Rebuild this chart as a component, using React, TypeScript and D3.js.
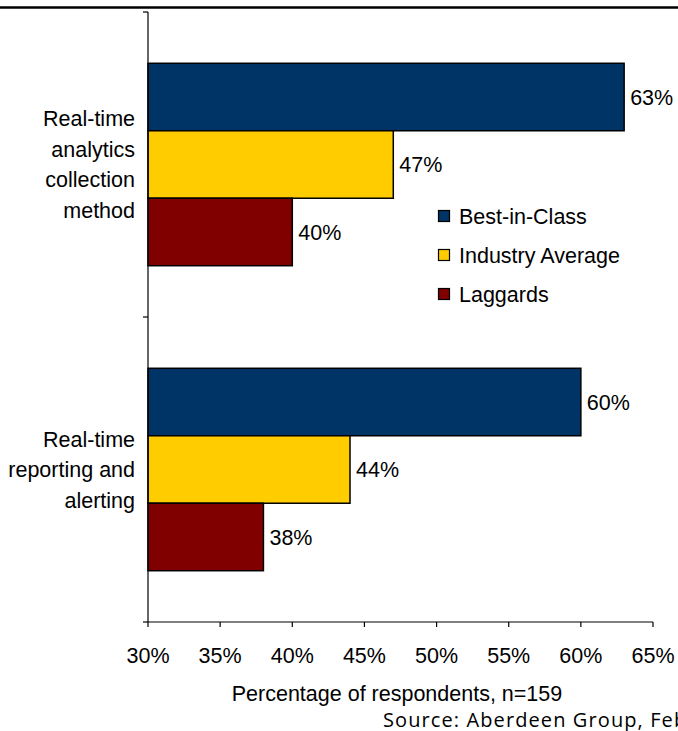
import React from "react";
import * as d3 from "d3";

const categories = [
  ["Real-time", "analytics", "collection", "method"],
  ["Real-time", "reporting and", "alerting"],
];
const seriesNames = ["Best-in-Class", "Industry Average", "Laggards"];
const seriesColors = ["#003366", "#FFCC00", "#800000"];
const bestInClass = [63, 60];
const industryAverage = [47, 44];
const laggards = [40, 38];
const xTicks = [30, 35, 40, 45, 50, 55, 60, 65];

const W = 678;
const H = 731;

export default function App() {
  const series = [bestInClass, industryAverage, laggards];
  const x = d3.scaleLinear().domain([30, 65]).range([148, 653]);
  const y0 = d3
    .scaleBand<number>()
    .domain(categories.map((_, i) => i))
    .range([12, 622])
    .paddingInner(0)
    .paddingOuter(0);
  const groupH = y0.bandwidth();
  const y1 = d3
    .scaleBand<number>()
    .domain(seriesNames.map((_, i) => i))
    .range([0, groupH])
    .paddingInner(0)
    .paddingOuter(0.76);
  const font = "'Liberation Sans', Arial, sans-serif";
  const fs = 21.5;
  const axisY = 622;
  const axisX = 148;
  return (
    <div style={{ position: "absolute", left: 0, top: 0 }}>
      <svg width={W} height={H} style={{ display: "block" }}>
        <rect width={W} height={H} fill="#fff" />
        <line x1={0} x2={W} y1={7.5} y2={7.5} stroke="#000" strokeWidth={2.5} />
        {/* bars */}
        {categories.map((_, ci) =>
          series.map((s, si) => (
            <g key={`${ci}-${si}`}>
              <rect
                x={axisX}
                y={(y0(ci) as number) + (y1(si) as number)}
                width={x(s[ci]) - axisX}
                height={y1.bandwidth()}
                fill={seriesColors[si]}
                stroke="#000"
                strokeWidth={1.5}
              />
              <text
                x={x(s[ci]) + 6}
                y={(y0(ci) as number) + (y1(si) as number) + y1.bandwidth() / 2}
                dy="0.35em"
                fontFamily={font}
                fontSize={fs}
                fill="#000"
              >
                {s[ci]}%
              </text>
            </g>
          ))
        )}
        {/* y axis */}
        <line x1={axisX} x2={axisX} y1={12} y2={axisY} stroke="#000" strokeWidth={1.2} />
        {[0, 1, 2].map((i) => {
          const yy = 12 + i * groupH;
          return <line key={i} x1={axisX - 5} x2={axisX} y1={yy} y2={yy} stroke="#000" strokeWidth={1.2} />;
        })}
        {/* category labels */}
        {categories.map((lines, ci) => {
          const cy = (y0(ci) as number) + groupH / 2;
          const lh = 30.5;
          const start = cy - ((lines.length - 1) * lh) / 2;
          return (
            <text
              key={ci}
              textAnchor="end"
              fontFamily={font}
              fontSize={fs}
              fill="#000"
            >
              {lines.map((l, li) => (
                <tspan key={li} x={135} y={start + li * lh} dy="0.35em">
                  {l}
                </tspan>
              ))}
            </text>
          );
        })}
        {/* x axis */}
        <line x1={axisX} x2={x(65)} y1={axisY} y2={axisY} stroke="#000" strokeWidth={1.2} />
        {xTicks.map((t) => (
          <g key={t}>
            <line x1={x(t)} x2={x(t)} y1={axisY} y2={axisY + 5} stroke="#000" strokeWidth={1.2} />
            <text
              x={x(t)}
              y={655}
              dy="0.35em"
              textAnchor="middle"
              fontFamily={font}
              fontSize={fs}
              fill="#000"
            >
              {t}%
            </text>
          </g>
        ))}
        <text
          x={397}
          y={693}
          dy="0.35em"
          textAnchor="middle"
          fontFamily={font}
          fontSize={fs}
          fill="#000"
        >
          Percentage of respondents, n=159
        </text>
        <text
          x={383}
          y={727}
          fontFamily="'Open Sans', Lato, sans-serif"
          fontSize={20}
          letterSpacing={1.1}
          fill="#000"
        >
          Source: Aberdeen Group, February 2010
        </text>
        {/* legend */}
        {seriesNames.map((n, i) => (
          <g key={n}>
            <rect
              x={438.5}
              y={210.5 + i * 39}
              width={11}
              height={11}
              fill={seriesColors[i]}
              stroke="#000"
              strokeWidth={1.2}
            />
            <text
              x={459}
              y={216 + i * 39}
              dy="0.35em"
              fontFamily={font}
              fontSize={fs}
              fill="#000"
            >
              {n}
            </text>
          </g>
        ))}
      </svg>
    </div>
  );
}
